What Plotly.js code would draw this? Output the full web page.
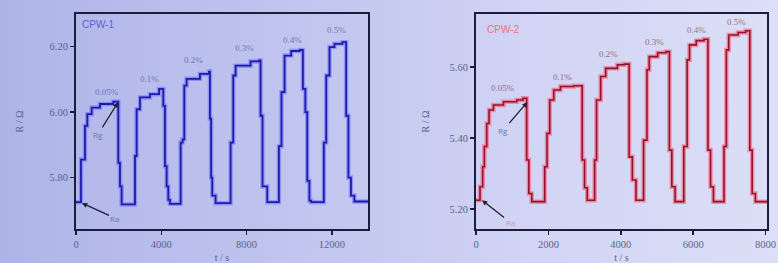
<!DOCTYPE html>
<html>
<head>
<meta charset="utf-8">
<script src="https://cdn.plot.ly/plotly-3.0.1.min.js"></script>
<style>
html,body{margin:0;padding:0;}
body{width:778px;height:263px;background:linear-gradient(90deg,#aeb4e8 0%,#c4c8f0 45%,#d2d5f4 70%,#dcdff7 100%);}
#chart{width:778px;height:263px;}
</style>
</head>
<body>
<div id="chart"></div>
<script>
// Left sample (blue): time in s, resistance
const tLeft = [0,234,422,531,735,1125,1750,1985,2063,2141,
  2767,2845,3002,3471,3900,4096,4174,4253,4330,4409,
  4910,5003,5081,5190,5815,6237,6284,6340,6393,6549,
  7253,7378,7488,8191,8600,8660,8750,8973,
  9519,9640,9785,10097,10500,10645,10760,10850,10950,11036,
  11628,11740,11894,12128,12500,12675,12780,12900,13060,13700];
const rLeft = [5.725,5.855,5.958,5.994,6.014,6.025,6.032,5.845,5.773,5.718,
  5.866,6.009,6.045,6.055,6.071,6.019,5.835,5.773,5.732,5.720,
  5.907,5.917,6.081,6.102,6.117,6.124,5.980,5.800,5.745,5.722,
  5.907,6.112,6.142,6.155,6.158,5.989,5.773,5.725,
  5.896,6.061,6.173,6.187,6.190,6.071,6.000,5.790,5.730,5.725,
  5.907,6.112,6.199,6.209,6.214,5.989,5.800,5.745,5.727,5.727];

// Right sample (red)
const tRight = [0,111,185,231,296,361,481,759,1129,1300,1400,1460,1540,
  1898,1963,2037,2148,2333,2700,2935,3000,3074,
  3278,3330,3444,3583,3907,4100,4231,4320,4420,
  4630,4723,4787,5019,5250,5343,5410,5500,
  5741,5834,5899,6084,6300,6408,6480,6560,
  6852,6917,6982,7241,7450,7565,7630,7720,8040];
const rRight = [5.225,5.263,5.319,5.376,5.441,5.479,5.493,5.502,5.507,5.512,5.338,5.244,5.221,
  5.319,5.413,5.507,5.535,5.545,5.547,5.338,5.260,5.225,
  5.338,5.507,5.573,5.596,5.606,5.608,5.347,5.282,5.225,
  5.394,5.592,5.629,5.640,5.643,5.366,5.263,5.221,
  5.376,5.620,5.662,5.674,5.678,5.366,5.263,5.221,
  5.376,5.648,5.690,5.697,5.702,5.366,5.244,5.221,5.221];

const concLabels = ["0.05%","0.1%","0.2%","0.3%","0.4%","0.5%"];
const labelTLeft = [1450,3470,5490,7925,10175,12240];
const labelRLeft = [6.062,6.100,6.160,6.196,6.222,6.250];
const labelTRight = [750,2380,3670,4920,6080,7190];
const labelRRight = [5.540,5.572,5.636,5.670,5.703,5.727];

const seriesNames = ["CPW-1","CPW-2"];

const traces = [
  {x:tLeft,y:rLeft,type:'scatter',mode:'lines',line:{shape:'hv',color:'rgba(90,90,255,0.45)',width:4.5},xaxis:'x',yaxis:'y',hoverinfo:'skip',showlegend:false},
  {x:tLeft,y:rLeft,type:'scatter',mode:'lines',line:{shape:'hv',color:'#1c1ca8',width:1.8},xaxis:'x',yaxis:'y',name:seriesNames[0],showlegend:false},
  {x:tRight,y:rRight,type:'scatter',mode:'lines',line:{shape:'hv',color:'rgba(255,90,110,0.6)',width:4.5},xaxis:'x2',yaxis:'y2',hoverinfo:'skip',showlegend:false},
  {x:tRight,y:rRight,type:'scatter',mode:'lines',line:{shape:'hv',color:'#8e1434',width:1.6},xaxis:'x2',yaxis:'y2',name:seriesNames[1],showlegend:false}
];

const tickFont = {family:'Liberation Serif, serif',size:10.5,color:'#5a6290'};
const axBase = {showgrid:false,zeroline:false,showline:true,mirror:true,linecolor:'#1c1c3c',linewidth:2,
  ticks:'outside',ticklen:4,tickcolor:'#1c1c3c',tickwidth:1.5,tickfont:tickFont};

const annotations = [];
concLabels.forEach((c,i)=>{
  annotations.push({x:labelTLeft[i],y:labelRLeft[i],xref:'x',yref:'y',text:c,showarrow:false,font:{family:'Liberation Serif, serif',size:9,color:'#7078b8'}});
  annotations.push({x:labelTRight[i],y:labelRRight[i],xref:'x2',yref:'y2',text:c,showarrow:false,font:{family:'Liberation Serif, serif',size:9,color:'#9a6a90'}});
});
annotations.push({x:0.012,y:0.985,xref:'x domain',yref:'y domain',xanchor:'left',yanchor:'top',text:seriesNames[0],showarrow:false,font:{family:'Liberation Sans, sans-serif',size:10,color:'#6060d8'}});
annotations.push({x:0.03,y:0.965,xref:'x2 domain',yref:'y2 domain',xanchor:'left',yanchor:'top',text:seriesNames[1],showarrow:false,font:{family:'Liberation Sans, sans-serif',size:10,color:'#f07080'}});
// arrows
annotations.push({x:1970,y:6.03,xref:'x',yref:'y',text:'Rg',ax:-20,ay:32,showarrow:true,arrowhead:2,arrowsize:0.8,arrowwidth:1.3,arrowcolor:'#202030',font:{size:8,color:'#707898'}});
annotations.push({x:281,y:5.722,xref:'x',yref:'y',text:'Ra',ax:33,ay:15,showarrow:true,arrowhead:2,arrowsize:0.8,arrowwidth:1.3,arrowcolor:'#202030',font:{size:8,color:'#707898'}});
annotations.push({x:1417,y:5.501,xref:'x2',yref:'y2',text:'Rg',ax:-24,ay:28,showarrow:true,arrowhead:2,arrowsize:0.8,arrowwidth:1.3,arrowcolor:'#202030',font:{size:8,color:'#707898'}});
annotations.push({x:167,y:5.225,xref:'x2',yref:'y2',text:'Ra',ax:28,ay:22,showarrow:true,arrowhead:2,arrowsize:0.8,arrowwidth:1.3,arrowcolor:'#202030',font:{size:8,color:'#e090a8'}});

const titleFont = {family:'Liberation Serif, serif',size:10,color:'#5a6290'};
const layout = {
  width:778,height:263,margin:{l:0,r:0,t:0,b:0},
  paper_bgcolor:'rgba(0,0,0,0)',plot_bgcolor:'rgba(0,0,0,0)',
  showlegend:false,
  xaxis:Object.assign({},axBase,{domain:[76/778,368/778],range:[0,13700],tick0:0,dtick:4000,tickformat:'d',
    title:{text:'t / s',font:titleFont,standoff:6},anchor:'y'}),
  yaxis:Object.assign({},axBase,{domain:[1-229/263,1-14/263],range:[5.643,6.30],tick0:5.8,dtick:0.2,tickformat:'.2f',
    title:{text:'R / Ω',font:titleFont,standoff:24},anchor:'x'}),
  xaxis2:Object.assign({},axBase,{domain:[476/778,767/778],range:[0,8040],tick0:0,dtick:2000,tickformat:'d',
    title:{text:'t / s',font:titleFont,standoff:6},anchor:'y2'}),
  yaxis2:Object.assign({},axBase,{domain:[1-229/263,1-14/263],range:[5.144,5.749],tick0:5.2,dtick:0.2,tickformat:'.2f',
    title:{text:'R / Ω',font:titleFont,standoff:18},anchor:'x2'}),
  annotations:annotations
};
Plotly.newPlot('chart',traces,layout,{staticPlot:true,displayModeBar:false});
</script>
</body>
</html>
